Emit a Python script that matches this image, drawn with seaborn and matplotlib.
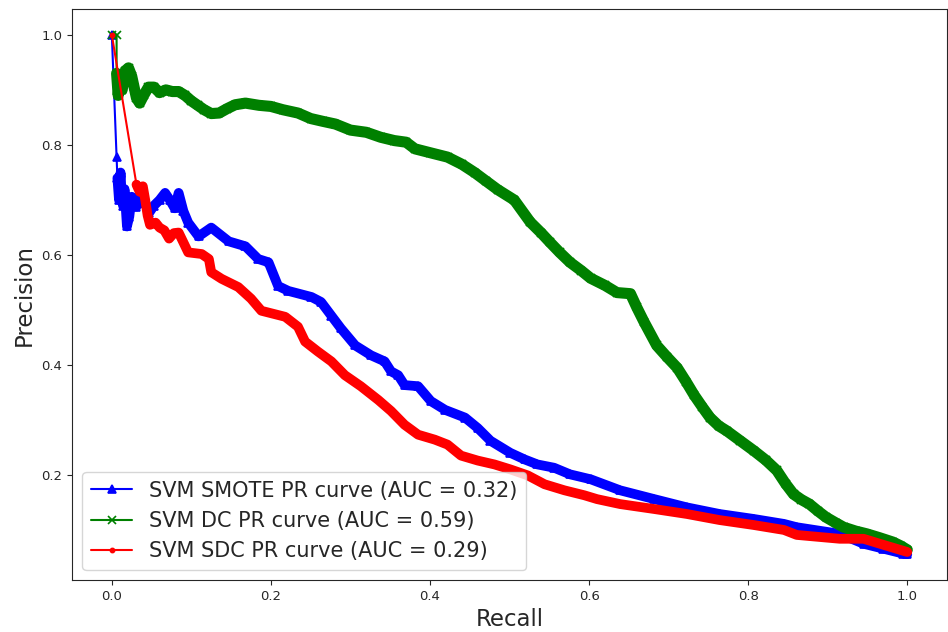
import numpy as np
import matplotlib
matplotlib.use('Agg')
import matplotlib.pyplot as plt
import seaborn as sns

# values (recall, precision)
smote_recall = [0.000, 0.006, 0.007, 0.009, 0.011, 0.012, 0.014, 0.016, 0.019, 0.022,
                0.025, 0.028, 0.031, 0.034, 0.037, 0.041, 0.047, 0.053, 0.060, 0.067,
                0.073, 0.079, 0.084, 0.090, 0.096, 0.109, 0.125, 0.147, 0.168, 0.184,
                0.197, 0.209, 0.222, 0.251, 0.263, 0.276, 0.288, 0.306, 0.326, 0.343,
                0.351, 0.360, 0.368, 0.385, 0.401, 0.419, 0.444, 0.460, 0.476, 0.501,
                0.519, 0.535, 0.556, 0.576, 0.602, 0.639, 0.682, 0.723, 0.764, 0.807,
                0.845, 0.861, 0.915, 0.945, 0.970, 0.995, 1.000]
smote_precision = [1.000, 0.778, 0.740, 0.700, 0.750, 0.720, 0.690, 0.720, 0.652, 0.670,
                   0.706, 0.695, 0.688, 0.705, 0.713, 0.695, 0.677, 0.690, 0.700, 0.713,
                   0.700, 0.685, 0.713, 0.680, 0.659, 0.634, 0.650, 0.625, 0.616, 0.593,
                   0.587, 0.544, 0.535, 0.524, 0.515, 0.490, 0.467, 0.436, 0.418, 0.407,
                   0.389, 0.382, 0.364, 0.362, 0.335, 0.319, 0.305, 0.286, 0.263, 0.241,
                   0.229, 0.220, 0.214, 0.202, 0.193, 0.173, 0.157, 0.142, 0.130, 0.121,
                   0.112, 0.106, 0.094, 0.076, 0.067, 0.058, 0.057]

dc_recall = [0.000, 0.006, 0.006, 0.008, 0.010, 0.013, 0.017, 0.021, 0.025, 0.028,
             0.031, 0.035, 0.040, 0.046, 0.053, 0.060, 0.068, 0.076, 0.084, 0.092,
             0.100, 0.108, 0.116, 0.125, 0.135, 0.145, 0.155, 0.168, 0.185, 0.200,
             0.215, 0.234, 0.250, 0.265, 0.281, 0.300, 0.320, 0.338, 0.355, 0.370,
             0.381, 0.400, 0.422, 0.440, 0.456, 0.470, 0.485, 0.506, 0.526, 0.540,
             0.551, 0.563, 0.576, 0.590, 0.602, 0.620, 0.635, 0.652, 0.660, 0.669,
             0.685, 0.698, 0.711, 0.722, 0.732, 0.742, 0.752, 0.763, 0.773, 0.790,
             0.807, 0.822, 0.836, 0.847, 0.857, 0.867, 0.877, 0.888, 0.898, 0.910,
             0.920, 0.935, 0.949, 0.965, 0.982, 0.992, 1.000]
dc_precision = [1.000, 1.000, 0.930, 0.890, 0.925, 0.900, 0.935, 0.940, 0.925, 0.905,
                0.885, 0.876, 0.890, 0.905, 0.905, 0.895, 0.900, 0.897, 0.897, 0.890,
                0.880, 0.872, 0.864, 0.857, 0.858, 0.866, 0.873, 0.876, 0.872, 0.870,
                0.864, 0.858, 0.848, 0.843, 0.838, 0.827, 0.823, 0.814, 0.808, 0.805,
                0.793, 0.786, 0.778, 0.765, 0.750, 0.735, 0.719, 0.700, 0.660, 0.640,
                0.623, 0.605, 0.587, 0.572, 0.558, 0.545, 0.532, 0.530, 0.505, 0.479,
                0.436, 0.415, 0.395, 0.370, 0.346, 0.325, 0.305, 0.290, 0.281, 0.263,
                0.245, 0.228, 0.209, 0.185, 0.166, 0.156, 0.148, 0.135, 0.124, 0.114,
                0.106, 0.099, 0.094, 0.087, 0.079, 0.072, 0.065]

sdc_recall = [0.000, 0.031, 0.035, 0.039, 0.042, 0.045, 0.048, 0.055, 0.060, 0.066,
              0.072, 0.078, 0.084, 0.096, 0.113, 0.122, 0.125, 0.138, 0.159, 0.175,
              0.188, 0.218, 0.234, 0.243, 0.259, 0.276, 0.293, 0.313, 0.335, 0.351,
              0.368, 0.385, 0.406, 0.422, 0.439, 0.460, 0.481, 0.501, 0.523, 0.544,
              0.569, 0.594, 0.610, 0.639, 0.682, 0.723, 0.764, 0.807, 0.845, 0.861,
              0.915, 0.945, 0.970, 1.000]
sdc_precision = [1.000, 0.728, 0.715, 0.725, 0.700, 0.672, 0.655, 0.659, 0.650, 0.645,
                 0.630, 0.640, 0.641, 0.605, 0.602, 0.593, 0.569, 0.557, 0.542, 0.521,
                 0.499, 0.488, 0.470, 0.443, 0.425, 0.407, 0.382, 0.362, 0.337, 0.317,
                 0.292, 0.274, 0.265, 0.256, 0.236, 0.227, 0.220, 0.211, 0.200, 0.184,
                 0.173, 0.164, 0.157, 0.148, 0.139, 0.130, 0.119, 0.110, 0.101, 0.092,
                 0.085, 0.085, 0.074, 0.061]

labels = ['SVM SMOTE PR curve (AUC = 0.32)',
          'SVM DC PR curve (AUC = 0.59)',
          'SVM SDC PR curve (AUC = 0.29)']

sns.set_style('ticks')
plt.rcParams['font.family'] = ['DejaVu Sans']

fig = plt.figure(figsize=(9.48, 6.32), dpi=100)
ax = fig.add_axes([0.076, 0.082, 0.923, 0.904])

curves = [
    (smote_recall, smote_precision, 'blue', '^', labels[0], 2, 7),
    (dc_recall, dc_precision, 'green', 'x', labels[1], 2, 8),
    (sdc_recall, sdc_precision, 'red', '.', labels[2], 1, 7),
]

handles = []
for rec, prec, color, mk, lab, start, band in curves:
    # dense part of the curve shows up as a thick band of overlapping markers
    sns.lineplot(x=rec[start:], y=prec[start:], color=color, linewidth=band,
                 sort=False, estimator=None, errorbar=None, ax=ax)
    sns.lineplot(x=rec, y=prec, color=color, marker=mk, markersize=6,
                 markeredgecolor=color, markeredgewidth=1.2, linewidth=1.5,
                 sort=False, estimator=None, errorbar=None, ax=ax)
    handles.append(ax.lines[-1])

ax.set_xlabel('Recall', fontsize=16.5)
ax.set_ylabel('Precision', fontsize=16.5)
ax.tick_params(labelsize=9.5)
ax.set_xticks([0.0, 0.2, 0.4, 0.6, 0.8, 1.0])
ax.set_yticks([0.2, 0.4, 0.6, 0.8, 1.0])
ax.legend(handles, labels, loc='lower left', fontsize=15)

fig.savefig('out.png', dpi=100)
